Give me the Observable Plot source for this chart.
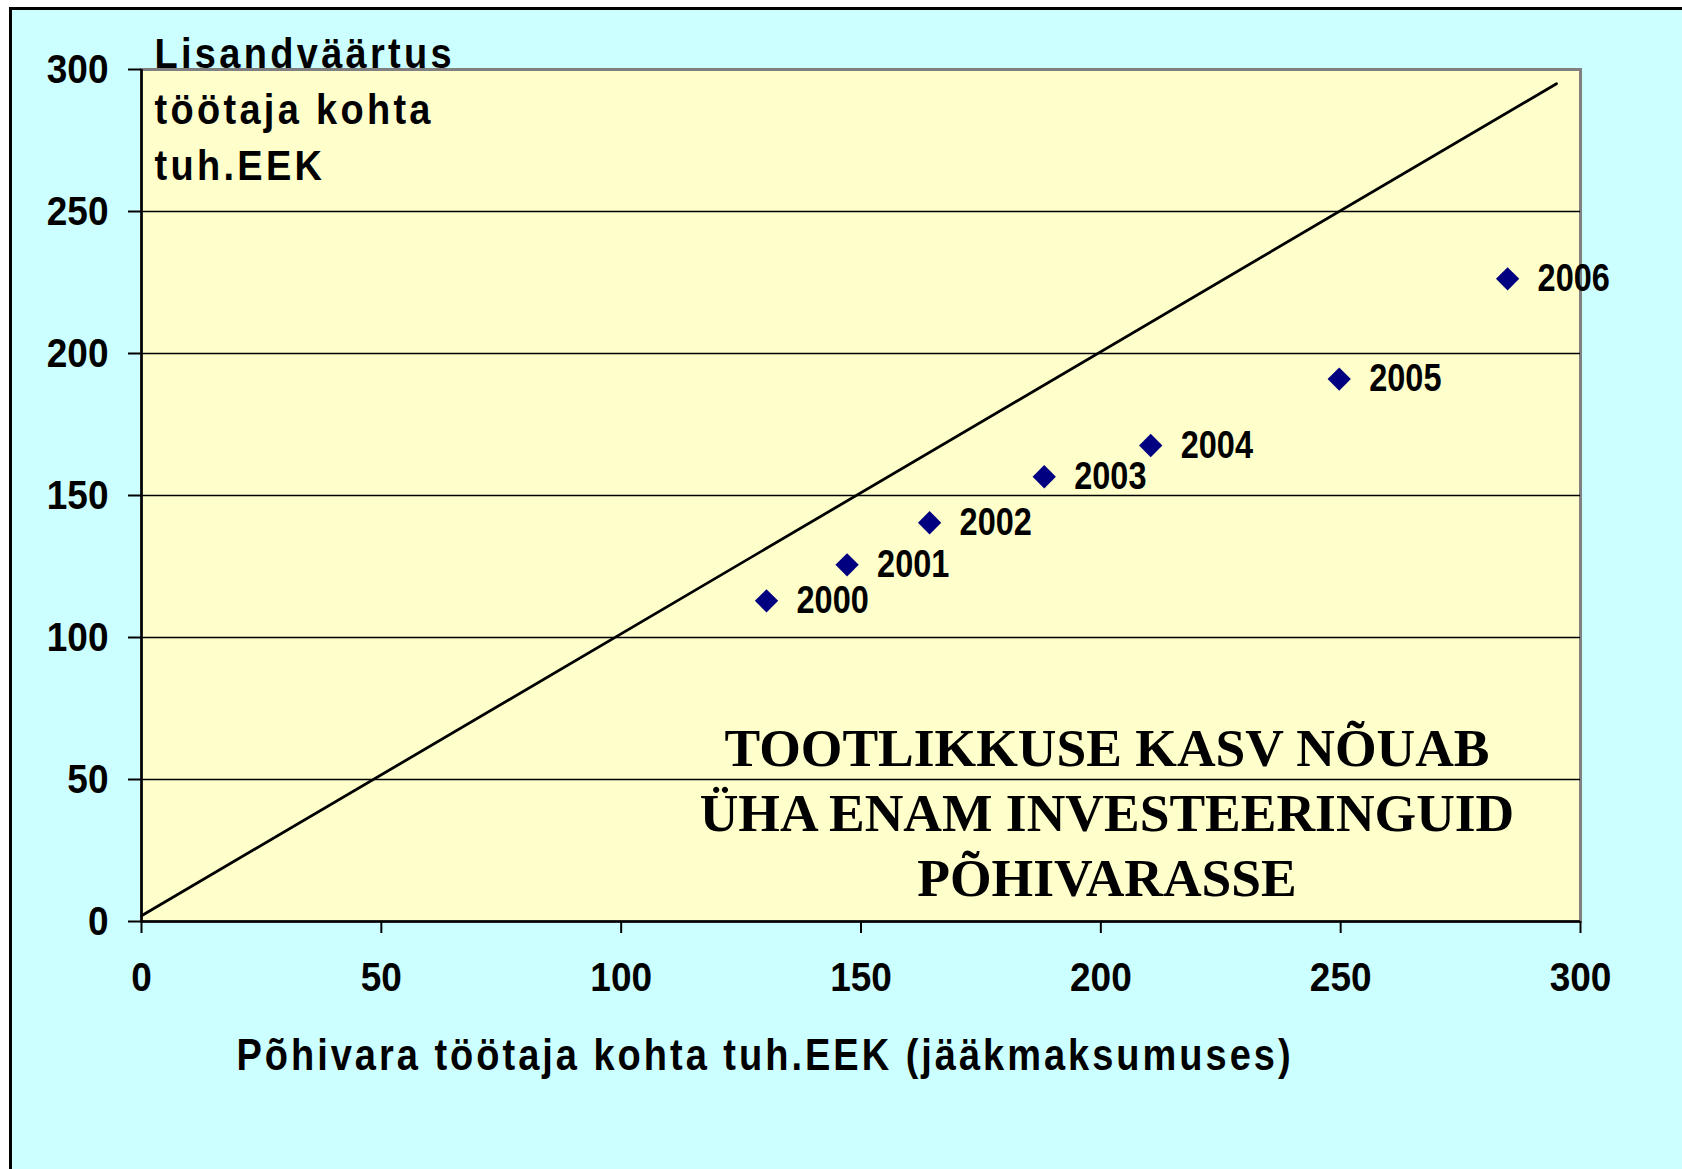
<!DOCTYPE html>
<html>
<head>
<meta charset="utf-8">
<script src="https://cdn.jsdelivr.net/npm/d3@7"></script>
<script src="https://cdn.jsdelivr.net/npm/@observablehq/plot@0.6"></script>
<style>
html, body { margin: 0; padding: 0; background: #fff; width: 1682px; height: 1169px; overflow: hidden; }
#bg { position: absolute; left: 9px; top: 7px; right: 0; bottom: 0; border-left: 3px solid #000; border-top: 3px solid #000; background: #CCFFFF; }
#chart { position: absolute; left: 0; top: 0; }
</style>
</head>
<body>
<div id="bg"></div>
<div id="chart"></div>
<script>
// Data
const years = [2000, 2001, 2002, 2003, 2004, 2005, 2006];
const fixedAssets = [130.3, 147.1, 164.3, 188.2, 210.4, 249.7, 284.8];  // Põhivara töötaja kohta, tuh.EEK
const valueAdded = [112.9, 125.6, 140.4, 156.6, 167.6, 191.0, 226.3];  // Lisandväärtus töötaja kohta, tuh.EEK
const diagX = [0, 295];
const diagY = [2, 295];
const xTicks = [0, 50, 100, 150, 200, 250, 300];
const yTicks = [0, 50, 100, 150, 200, 250, 300];
const gridValues = [50, 100, 150, 200, 250];
const yTitle = "Lisandväärtus\ntöötaja kohta\ntuh.EEK";
const xTitle = "Põhivara töötaja kohta tuh.EEK (jääkmaksumuses)";
const note = "TOOTLIKKUSE KASV NÕUAB\nÜHA ENAM INVESTEERINGUID\nPÕHIVARASSE";

const points = years.map((year, i) => ({year, x: fixedAssets[i], y: valueAdded[i]}));
const diagonal = diagX.map((x, i) => ({x, y: diagY[i]}));

const plot = Plot.plot({
  width: 1682,
  height: 1169,
  marginLeft: 141,
  marginRight: 102,
  marginTop: 69,
  marginBottom: 248,
  style: {background: "transparent", fontFamily: "'Liberation Sans', Arial, sans-serif", fontWeight: "bold", color: "#000"},
  x: {domain: [0, 300]},
  y: {domain: [0, 300]},
  marks: [
    Plot.frame({fill: "#FFFFCC", stroke: "#808080", strokeWidth: 3}),
    Plot.ruleY(gridValues, {stroke: "#000", strokeWidth: 1.3}),
    Plot.line(diagonal, {x: "x", y: "y", stroke: "#000", strokeWidth: 2.8}),
    Plot.ruleX([0], {stroke: "#000", strokeWidth: 2.5}),
    Plot.ruleY([0], {stroke: "#000", strokeWidth: 2.5}),
    Plot.axisX({ticks: xTicks, tickSize: 12, tickPadding: 28, fontSize: 37, strokeWidth: 2, label: null, tickFormat: d => String(d)}),
    Plot.axisY({ticks: yTicks, tickSize: 13, tickPadding: 20, fontSize: 37, strokeWidth: 2, label: null, tickFormat: d => String(d)}),
    Plot.dot(points, {x: "x", y: "y", symbol: "diamond2", r: 10.5, fill: "#000080"}),
    Plot.text(points, {x: "x", y: "y", text: d => String(d.year), dx: 30, textAnchor: "start", fontSize: 32.5, fill: "#000"}),
    Plot.text([yTitle], {text: d => d, frameAnchor: "top-left", dx: 13, dy: -41.6, lineAnchor: "top", lineHeight: 1.316, textAnchor: "start", fontSize: 38, fill: "#000"}),
    Plot.text([xTitle], {text: d => d, frameAnchor: "bottom", dx: -96, dy: 148.6, lineAnchor: "bottom", fontSize: 38, fill: "#000"}),
    Plot.text([note], {text: d => d, frameAnchor: "bottom", dx: 246, dy: -25.7, lineAnchor: "bottom", lineHeight: 1.21, fontSize: 53.5, fontFamily: "'Liberation Serif', 'Times New Roman', serif", fontWeight: "bold", fill: "#000"})
  ]
});

// The reference's sans-serif lettering is slightly tall; stretch it vertically about its anchor.
function stretch(el, k) {
  const t = el.getAttribute("transform") || "";
  el.setAttribute("transform", `${t} scale(1,${k})`);
}
d3.select(plot).selectAll("text").each(function () {
  const t = this.textContent;
  if (t.startsWith("Lisand")) {
    this.style.letterSpacing = "3.3px";
    stretch(this, 1.12);
  } else if (t === xTitle) {
    this.style.letterSpacing = "3px";
    stretch(this, 1.18);
  } else if (years.map(String).includes(t)) {
    stretch(this, 1.18);
  } else if (xTicks.map(String).includes(t)) {
    stretch(this, 1.11);
  }
});

document.getElementById("chart").appendChild(plot);
</script>
</body>
</html>
